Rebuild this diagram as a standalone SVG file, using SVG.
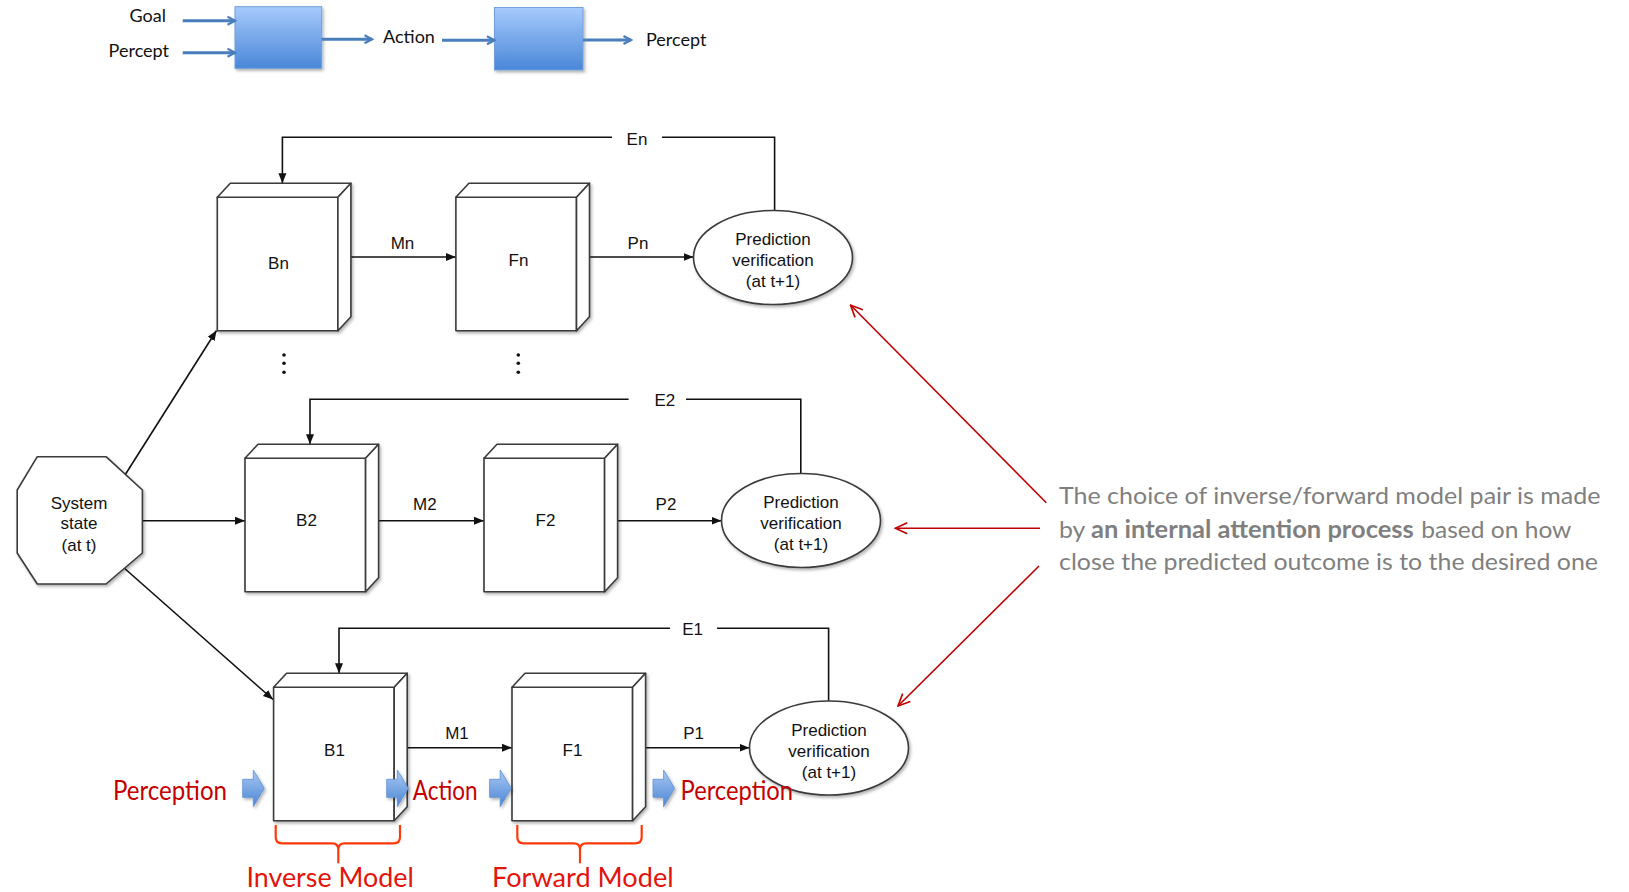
<svg xmlns="http://www.w3.org/2000/svg" width="1629" height="892" viewBox="0 0 1629 892">
  <defs>
    <style>
      .box { fill: #ffffff; stroke: #3a3a3a; stroke-width: 1.6; stroke-linejoin: round; }
      .oval { fill: #ffffff; stroke: #3a3a3a; stroke-width: 1.6; }
      .lbl { font-family: "Liberation Sans", Arial, sans-serif; font-size: 17px; fill: #111111; text-anchor: middle; }
      .edge { fill: none; stroke: #111111; stroke-width: 1.6; }
      .flow { fill: none; stroke: #4a7ebb; stroke-width: 3; }
      .flowtxt { font-family: Lato, "Open Sans", sans-serif; font-size: 18px; fill: #111111; }
      .redtxt { font-family: Lato, "Open Sans", sans-serif; font-size: 27px; fill: #c40000; }
      .modeltxt { font-family: Lato, "Open Sans", sans-serif; font-size: 27px; fill: #e3140c; }
      .note { font-family: Lato, "Open Sans", sans-serif; font-size: 24px; fill: #7f7f7f; }
      .pointer { fill: none; stroke: #c00000; stroke-width: 1.6; }
      .brace { fill: none; stroke: #ff3a0a; stroke-width: 2.2; stroke-linejoin: round; }
      .dot { fill: #111111; }
    </style>
    <linearGradient id="blueFill" x1="0" y1="0" x2="0" y2="1">
      <stop offset="0" stop-color="#a6cafc"/>
      <stop offset="1" stop-color="#4a87d8"/>
    </linearGradient>
    <linearGradient id="blockFill" x1="0" y1="0" x2="0" y2="1">
      <stop offset="0" stop-color="#a9c9f3"/>
      <stop offset="1" stop-color="#4c85d4"/>
    </linearGradient>
    <filter id="shadow" x="-15%" y="-15%" width="135%" height="135%">
      <feDropShadow dx="1.5" dy="2" stdDeviation="1.5" flood-color="#000000" flood-opacity="0.3"/>
    </filter>
    <marker id="ah" viewBox="0 0 10 10" refX="10" refY="5" markerWidth="10" markerHeight="10" markerUnits="userSpaceOnUse" orient="auto">
      <path d="M0,1 L10,5 L0,9 Z" fill="#111111"/>
    </marker>
    <marker id="blueHead" viewBox="0 0 10 10" refX="8.5" refY="5" markerWidth="10" markerHeight="10" markerUnits="userSpaceOnUse" orient="auto">
      <path d="M1,1 L8.5,5 L1,9" fill="none" stroke="#4a7ebb" stroke-width="2.2"/>
    </marker>
    <marker id="redHead" viewBox="0 0 14 14" refX="13" refY="7" markerWidth="14" markerHeight="14" markerUnits="userSpaceOnUse" orient="auto">
      <path d="M1,1.5 L13,7 L1,12.5" fill="none" stroke="#c00000" stroke-width="1.6"/>
    </marker>
    <path id="blockArrow" d="M0,9.3 H10.6 V0 L21.6,18.3 L10.6,36.7 V27.3 H0 Z" fill="url(#blockFill)" stroke="#5b8fd6" stroke-width="0.8"/>
  </defs>

  <rect width="1629" height="892" fill="#ffffff"/>

  <!-- summary strip: goal/percept -> inverse -> action -> forward -> percept -->
  <g id="flow-inverse">
    <rect x="235" y="6.7" width="86.7" height="61.6" fill="url(#blueFill)" stroke="#6f9fdc" stroke-width="1" filter="url(#shadow)"/>
  </g>
  <g id="flow-forward">
    <rect x="494.5" y="7.5" width="88.5" height="62.5" fill="url(#blueFill)" stroke="#6f9fdc" stroke-width="1" filter="url(#shadow)"/>
  </g>
  <g id="flow-connectors">
    <line class="flow" x1="182.7" y1="20.7" x2="235" y2="20.7" marker-end="url(#blueHead)"/>
    <line class="flow" x1="182.7" y1="52.7" x2="235" y2="52.7" marker-end="url(#blueHead)"/>
    <line class="flow" x1="321.7" y1="39.3" x2="372" y2="39.3" marker-end="url(#blueHead)"/>
    <line class="flow" x1="442" y1="40.3" x2="494.5" y2="40.3" marker-end="url(#blueHead)"/>
    <line class="flow" x1="583" y1="40" x2="631" y2="40" marker-end="url(#blueHead)"/>
  </g>
  <g id="flow-labels">
    <text class="flowtxt" x="166" y="21.7" text-anchor="end">Goal</text>
    <text class="flowtxt" x="169" y="56.7" text-anchor="end">Percept</text>
    <text class="flowtxt" x="383" y="43.3">Action</text>
    <text class="flowtxt" x="646" y="45.7">Percept</text>
  </g>

  <!-- connectors of the main diagram -->
  <g id="connectors">
    <!-- system state to each inverse model -->
    <line class="edge" x1="125" y1="475" x2="216.5" y2="330.5" marker-end="url(#ah)"/>
    <line class="edge" x1="142.4" y1="520.7" x2="245" y2="520.7" marker-end="url(#ah)"/>
    <line class="edge" x1="124.7" y1="568.5" x2="273" y2="699.5" marker-end="url(#ah)"/>
    <!-- row n -->
    <line class="edge" x1="350.9" y1="257" x2="455.9" y2="257" marker-end="url(#ah)"/>
    <line class="edge" x1="589.5" y1="257" x2="693.5" y2="257" marker-end="url(#ah)"/>
    <path class="edge" d="M612,137.3 H282.4 V183.3" marker-end="url(#ah)"/>
    <path class="edge" d="M662,137.3 H774.6 V210.5"/>
    <!-- row 2 -->
    <line class="edge" x1="378.6" y1="520.7" x2="484" y2="520.7" marker-end="url(#ah)"/>
    <line class="edge" x1="617.6" y1="520.7" x2="721.5" y2="520.7" marker-end="url(#ah)"/>
    <path class="edge" d="M628.6,399.3 H310 V444.3" marker-end="url(#ah)"/>
    <path class="edge" d="M686,399.3 H800.8 V473.5"/>
    <!-- row 1 -->
    <line class="edge" x1="407.2" y1="747.7" x2="512" y2="747.7" marker-end="url(#ah)"/>
    <line class="edge" x1="645.6" y1="747.7" x2="749.5" y2="747.7" marker-end="url(#ah)"/>
    <path class="edge" d="M670,628.3 H339 V673.3" marker-end="url(#ah)"/>
    <path class="edge" d="M717,628.3 H828.6 V701"/>
    <!-- edge labels -->
    <text class="lbl" x="637" y="145">En</text>
    <text class="lbl" x="402.5" y="249">Mn</text>
    <text class="lbl" x="638" y="249">Pn</text>
    <text class="lbl" x="664.8" y="405.5">E2</text>
    <text class="lbl" x="424.8" y="510">M2</text>
    <text class="lbl" x="666" y="510">P2</text>
    <text class="lbl" x="692.6" y="634.5">E1</text>
    <text class="lbl" x="457" y="739">M1</text>
    <text class="lbl" x="693.6" y="739">P1</text>
  </g>

  <g id="system-state">
    <polygon class="box" filter="url(#shadow)" points="37.3,456.7 106,456.7 142.4,490 142.4,553 106,584 37.3,584 17.2,553 17.2,490"/>
    <text class="lbl" x="79" y="508.7">System</text>
    <text class="lbl" x="79" y="529.3">state</text>
    <text class="lbl" x="79" y="550.5">(at t)</text>
  </g>

  <!-- row n -->
  <g id="node-Bn" filter="url(#shadow)">
    <rect class="box" x="217.3" y="197.3" width="120.6" height="133.4"/>
    <polygon class="box" points="217.3,197.3 230.3,183.3 350.9,183.3 337.9,197.3"/>
    <polygon class="box" points="337.9,197.3 350.9,183.3 350.9,316.7 337.9,330.7"/>
  </g>
  <text class="lbl" x="278.5" y="269">Bn</text>
  <g id="node-Fn" filter="url(#shadow)">
    <rect class="box" x="455.9" y="197.3" width="120.6" height="133.4"/>
    <polygon class="box" points="455.9,197.3 468.9,183.3 589.5,183.3 576.5,197.3"/>
    <polygon class="box" points="576.5,197.3 589.5,183.3 589.5,316.7 576.5,330.7"/>
  </g>
  <text class="lbl" x="518.5" y="266">Fn</text>
  <g id="node-Vn">
    <ellipse class="oval" filter="url(#shadow)" cx="773" cy="257.5" rx="79.5" ry="47"/>
    <text class="lbl" x="773" y="245">Prediction</text>
    <text class="lbl" x="773" y="266">verification</text>
    <text class="lbl" x="773" y="287">(at t+1)</text>
  </g>

  <g id="ellipsis-marks">
    <circle class="dot" cx="284" cy="355" r="1.8"/>
    <circle class="dot" cx="284" cy="363.3" r="1.8"/>
    <circle class="dot" cx="284" cy="372.3" r="1.8"/>
    <circle class="dot" cx="518.3" cy="355" r="1.8"/>
    <circle class="dot" cx="518.3" cy="363.3" r="1.8"/>
    <circle class="dot" cx="518.3" cy="372.3" r="1.8"/>
  </g>

  <!-- row 2 -->
  <g id="node-B2" filter="url(#shadow)">
    <rect class="box" x="245" y="458.3" width="120.6" height="133.4"/>
    <polygon class="box" points="245,458.3 258,444.3 378.6,444.3 365.6,458.3"/>
    <polygon class="box" points="365.6,458.3 378.6,444.3 378.6,577.7 365.6,591.7"/>
  </g>
  <text class="lbl" x="306.5" y="526">B2</text>
  <g id="node-F2" filter="url(#shadow)">
    <rect class="box" x="484" y="458.3" width="120.6" height="133.4"/>
    <polygon class="box" points="484,458.3 497,444.3 617.6,444.3 604.6,458.3"/>
    <polygon class="box" points="604.6,458.3 617.6,444.3 617.6,577.7 604.6,591.7"/>
  </g>
  <text class="lbl" x="545.5" y="526">F2</text>
  <g id="node-V2">
    <ellipse class="oval" filter="url(#shadow)" cx="801" cy="520.5" rx="79.5" ry="47"/>
    <text class="lbl" x="801" y="508">Prediction</text>
    <text class="lbl" x="801" y="529">verification</text>
    <text class="lbl" x="801" y="550">(at t+1)</text>
  </g>

  <!-- row 1 -->
  <g id="node-B1" filter="url(#shadow)">
    <rect class="box" x="273.6" y="687.3" width="120.6" height="133.4"/>
    <polygon class="box" points="273.6,687.3 286.6,673.3 407.2,673.3 394.2,687.3"/>
    <polygon class="box" points="394.2,687.3 407.2,673.3 407.2,806.7 394.2,820.7"/>
  </g>
  <text class="lbl" x="334.5" y="756">B1</text>
  <g id="node-F1" filter="url(#shadow)">
    <rect class="box" x="512" y="687.3" width="120.6" height="133.4"/>
    <polygon class="box" points="512,687.3 525,673.3 645.6,673.3 632.6,687.3"/>
    <polygon class="box" points="632.6,687.3 645.6,673.3 645.6,806.7 632.6,820.7"/>
  </g>
  <text class="lbl" x="572.5" y="756">F1</text>
  <g id="node-V1">
    <ellipse class="oval" filter="url(#shadow)" cx="829" cy="748" rx="79.5" ry="47"/>
    <text class="lbl" x="829" y="735.5">Prediction</text>
    <text class="lbl" x="829" y="756.5">verification</text>
    <text class="lbl" x="829" y="777.5">(at t+1)</text>
  </g>

  <!-- perception / action annotations on the bottom pair -->
  <g id="annotations">
    <use href="#blockArrow" x="242.7" y="770" filter="url(#shadow)"/>
    <use href="#blockArrow" x="386.7" y="770" filter="url(#shadow)"/>
    <use href="#blockArrow" x="489.6" y="770" filter="url(#shadow)"/>
    <use href="#blockArrow" x="653" y="770" filter="url(#shadow)"/>
    <text class="redtxt" x="113" y="800" textLength="114" lengthAdjust="spacingAndGlyphs">Perception</text>
    <text class="redtxt" x="412.8" y="800" textLength="64.8" lengthAdjust="spacingAndGlyphs">Action</text>
    <text class="redtxt" x="680.5" y="800" textLength="112.5" lengthAdjust="spacingAndGlyphs">Perception</text>
    <path class="brace" d="M275.7,825 V837 Q275.7,843.3 282,843.3 H332 Q338.3,843.3 338.3,849.6 V863.3 M338.3,849.6 Q338.3,843.3 344.6,843.3 H393.7 Q400,843.3 400,837 V825"/>
    <path class="brace" d="M517.3,825 V837 Q517.3,843.3 523.6,843.3 H573.7 Q580,843.3 580,849.6 V863.3 M580,849.6 Q580,843.3 586.3,843.3 H635.4 Q641.7,843.3 641.7,837 V825"/>
    <text class="modeltxt" x="246.4" y="887" textLength="167.4" lengthAdjust="spacingAndGlyphs">Inverse Model</text>
    <text class="modeltxt" x="492" y="887" textLength="181.7" lengthAdjust="spacingAndGlyphs">Forward Model</text>
  </g>

  <!-- attention note with its pointers -->
  <g id="attention-note">
    <line class="pointer" x1="1046.3" y1="502.7" x2="850.5" y2="305" marker-end="url(#redHead)"/>
    <line class="pointer" x1="1040" y1="528.3" x2="895.3" y2="528.3" marker-end="url(#redHead)"/>
    <line class="pointer" x1="1039" y1="566" x2="898" y2="706" marker-end="url(#redHead)"/>
    <text class="note" x="1059" y="504" textLength="541.5" lengthAdjust="spacingAndGlyphs">The choice of inverse/forward model pair is made</text>
    <text class="note" x="1059" y="538.3" textLength="26.4" lengthAdjust="spacingAndGlyphs">by</text>
    <text class="note" x="1091" y="538.3" font-weight="bold" textLength="322.7" lengthAdjust="spacingAndGlyphs">an internal attention process</text>
    <text class="note" x="1421.3" y="538.3" textLength="150.1" lengthAdjust="spacingAndGlyphs">based on how</text>
    <text class="note" x="1059" y="570" textLength="539" lengthAdjust="spacingAndGlyphs">close the predicted outcome is to the desired one</text>
  </g>
</svg>
